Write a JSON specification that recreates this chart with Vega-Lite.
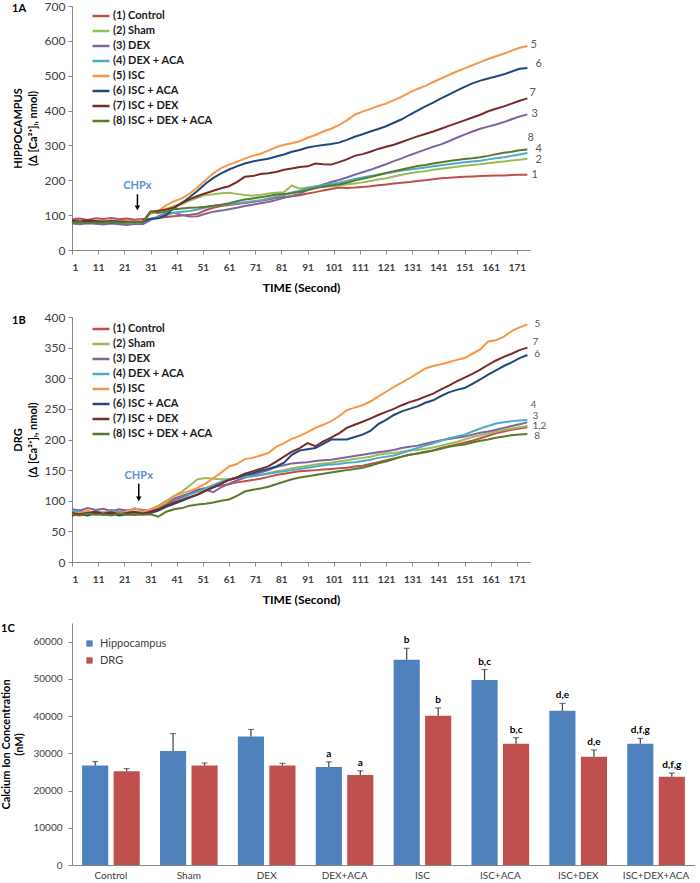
{
"$schema":"https://vega.github.io/schema/vega-lite/v6.json",
"padding":{"left":0,"top":0,"right":0,"bottom":0},
"background":"white",
"config":{"view":{"stroke":null},"font":"Lato",
 "axis":{"grid":false,"domainColor":"#868686","tickColor":"#868686","labelColor":"#404040","labelFont":"Lato","titleFont":"Lato","titleColor":"#000000","titleFontWeight":"bold","labelOverlap":false},
 "legend":{"labelFont":"Lato","padding":0},
 "title":{"font":"Lato"}},
"resolve":{"scale":{"color":"independent"},"legend":{"color":"independent"}},
"datasets":{
"A":[
{"t":1,"a":88,"b":80,"c":76,"d":82,"e":80,"f":84,"g":82,"h":78},
{"t":4,"a":90,"b":78,"c":74,"d":80,"e":82,"f":82,"g":80,"h":80},
{"t":7,"a":86,"b":81,"c":77,"d":79,"e":79,"f":85,"g":83,"h":77},
{"t":10,"a":91,"b":79,"c":75,"d":81,"e":83,"f":83,"g":80,"h":79},
{"t":13,"a":89,"b":80,"c":73,"d":78,"e":80,"f":81,"g":82,"h":78},
{"t":16,"a":92,"b":78,"c":76,"d":80,"e":82,"f":84,"g":79,"h":80},
{"t":19,"a":88,"b":80,"c":74,"d":79,"e":81,"f":82,"g":81,"h":78},
{"t":22,"a":90,"b":79,"c":72,"d":77,"e":79,"f":80,"g":82,"h":79},
{"t":25,"a":87,"b":78,"c":75,"d":80,"e":83,"f":81,"g":80,"h":81},
{"t":28,"a":89,"b":80,"c":74,"d":79,"e":82,"f":80,"g":81,"h":79},
{"t":31,"a":90,"b":110,"c":86,"d":88,"e":104,"f":90,"g":110,"h":110},
{"t":34,"a":92,"b":113,"c":97,"d":94,"e":112,"f":91,"g":112,"h":106},
{"t":37,"a":95,"b":118,"c":104,"d":100,"e":128,"f":100,"g":116,"h":110},
{"t":40,"a":97,"b":126,"c":107,"d":107,"e":140,"f":121,"g":121,"h":117},
{"t":43,"a":99,"b":132,"c":100,"d":110,"e":148,"f":135,"g":135,"h":119},
{"t":46,"a":101,"b":142,"c":96,"d":112,"e":162,"f":152,"g":146,"h":121},
{"t":49,"a":104,"b":150,"c":97,"d":116,"e":180,"f":170,"g":155,"h":122},
{"t":52,"a":114,"b":158,"c":104,"d":122,"e":200,"f":190,"g":163,"h":124},
{"t":55,"a":121,"b":160,"c":110,"d":126,"e":220,"f":207,"g":170,"h":127},
{"t":58,"a":126,"b":163,"c":113,"d":129,"e":235,"f":220,"g":177,"h":130},
{"t":61,"a":129,"b":164,"c":117,"d":131,"e":245,"f":231,"g":183,"h":134},
{"t":64,"a":132,"b":161,"c":121,"d":134,"e":253,"f":240,"g":195,"h":140},
{"t":67,"a":135,"b":158,"c":126,"d":137,"e":262,"f":248,"g":210,"h":145},
{"t":70,"a":138,"b":156,"c":130,"d":140,"e":270,"f":254,"g":212,"h":148},
{"t":73,"a":141,"b":158,"c":134,"d":143,"e":276,"f":258,"g":218,"h":151},
{"t":76,"a":145,"b":162,"c":138,"d":148,"e":285,"f":262,"g":220,"h":155},
{"t":79,"a":149,"b":164,"c":143,"d":153,"e":295,"f":268,"g":224,"h":159},
{"t":82,"a":152,"b":166,"c":150,"d":158,"e":302,"f":274,"g":230,"h":161},
{"t":85,"a":154,"b":185,"c":155,"d":165,"e":306,"f":282,"g":234,"h":163},
{"t":88,"a":157,"b":176,"c":161,"d":170,"e":312,"f":287,"g":238,"h":167},
{"t":91,"a":162,"b":179,"c":172,"d":178,"e":322,"f":294,"g":240,"h":172},
{"t":94,"a":166,"b":180,"c":180,"d":183,"e":330,"f":298,"g":248,"h":177},
{"t":97,"a":171,"b":181,"c":188,"d":186,"e":340,"f":301,"g":246,"h":182},
{"t":100,"a":175,"b":183,"c":195,"d":190,"e":348,"f":304,"g":245,"h":185},
{"t":103,"a":179,"b":185,"c":201,"d":193,"e":358,"f":308,"g":252,"h":188},
{"t":106,"a":178,"b":188,"c":208,"d":198,"e":372,"f":316,"g":260,"h":193},
{"t":109,"a":179,"b":191,"c":216,"d":204,"e":388,"f":325,"g":270,"h":199},
{"t":112,"a":181,"b":194,"c":223,"d":208,"e":397,"f":332,"g":275,"h":204},
{"t":115,"a":183,"b":198,"c":230,"d":212,"e":405,"f":340,"g":282,"h":209},
{"t":118,"a":186,"b":202,"c":238,"d":216,"e":413,"f":347,"g":290,"h":215},
{"t":121,"a":188,"b":206,"c":246,"d":220,"e":420,"f":355,"g":296,"h":221},
{"t":124,"a":191,"b":211,"c":255,"d":224,"e":430,"f":365,"g":302,"h":226},
{"t":127,"a":193,"b":216,"c":263,"d":228,"e":440,"f":375,"g":310,"h":231},
{"t":130,"a":195,"b":220,"c":272,"d":231,"e":452,"f":388,"g":318,"h":236},
{"t":133,"a":198,"b":224,"c":280,"d":234,"e":462,"f":400,"g":326,"h":241},
{"t":136,"a":200,"b":226,"c":288,"d":237,"e":471,"f":412,"g":333,"h":244},
{"t":139,"a":203,"b":230,"c":296,"d":240,"e":482,"f":423,"g":340,"h":248},
{"t":142,"a":206,"b":233,"c":303,"d":243,"e":492,"f":435,"g":348,"h":252},
{"t":145,"a":207,"b":236,"c":312,"d":246,"e":502,"f":446,"g":356,"h":255},
{"t":148,"a":209,"b":239,"c":322,"d":249,"e":512,"f":457,"g":364,"h":258},
{"t":151,"a":210,"b":242,"c":331,"d":252,"e":521,"f":468,"g":372,"h":261},
{"t":154,"a":211,"b":244,"c":340,"d":254,"e":530,"f":478,"g":380,"h":263},
{"t":157,"a":212,"b":246,"c":348,"d":256,"e":539,"f":486,"g":388,"h":266},
{"t":160,"a":213,"b":249,"c":354,"d":260,"e":548,"f":492,"g":398,"h":270},
{"t":163,"a":214,"b":252,"c":360,"d":263,"e":556,"f":498,"g":405,"h":275},
{"t":166,"a":214,"b":254,"c":367,"d":266,"e":563,"f":504,"g":412,"h":279},
{"t":169,"a":215,"b":257,"c":375,"d":270,"e":572,"f":512,"g":420,"h":282},
{"t":172,"a":216,"b":259,"c":383,"d":274,"e":580,"f":520,"g":428,"h":286},
{"t":175,"a":216,"b":262,"c":389,"d":278,"e":585,"f":522,"g":435,"h":288}
],
"B":[
{"t":1,"a":82,"b":80,"c":86,"d":84,"e":78,"f":76,"g":80,"h":78},
{"t":4,"a":84,"b":78,"c":84,"d":82,"e":80,"f":78,"g":78,"h":76},
{"t":7,"a":80,"b":82,"c":88,"d":80,"e":84,"f":76,"g":80,"h":79},
{"t":10,"a":83,"b":79,"c":85,"d":83,"e":78,"f":80,"g":82,"h":77},
{"t":13,"a":81,"b":80,"c":87,"d":81,"e":82,"f":77,"g":79,"h":78},
{"t":16,"a":85,"b":78,"c":83,"d":84,"e":80,"f":79,"g":81,"h":76},
{"t":19,"a":82,"b":81,"c":86,"d":80,"e":79,"f":76,"g":78,"h":79},
{"t":22,"a":84,"b":79,"c":84,"d":83,"e":83,"f":78,"g":80,"h":77},
{"t":25,"a":80,"b":80,"c":87,"d":82,"e":88,"f":77,"g":82,"h":78},
{"t":28,"a":83,"b":79,"c":85,"d":81,"e":82,"f":79,"g":79,"h":77},
{"t":31,"a":84,"b":86,"c":84,"d":82,"e":86,"f":80,"g":82,"h":78},
{"t":34,"a":88,"b":92,"c":86,"d":86,"e":90,"f":84,"g":86,"h":74},
{"t":37,"a":95,"b":100,"c":94,"d":92,"e":97,"f":90,"g":92,"h":82},
{"t":40,"a":100,"b":108,"c":104,"d":98,"e":108,"f":95,"g":97,"h":86},
{"t":43,"a":106,"b":115,"c":108,"d":104,"e":112,"f":100,"g":101,"h":88},
{"t":46,"a":112,"b":125,"c":112,"d":110,"e":116,"f":105,"g":106,"h":92},
{"t":49,"a":118,"b":135,"c":116,"d":114,"e":121,"f":110,"g":110,"h":94},
{"t":52,"a":121,"b":137,"c":118,"d":120,"e":128,"f":116,"g":116,"h":95},
{"t":55,"a":123,"b":136,"c":114,"d":126,"e":137,"f":122,"g":122,"h":97},
{"t":58,"a":125,"b":135,"c":122,"d":131,"e":146,"f":128,"g":128,"h":100},
{"t":61,"a":127,"b":135,"c":128,"d":135,"e":156,"f":134,"g":134,"h":102},
{"t":64,"a":130,"b":137,"c":133,"d":137,"e":160,"f":138,"g":138,"h":108},
{"t":67,"a":132,"b":139,"c":138,"d":139,"e":168,"f":142,"g":144,"h":115},
{"t":70,"a":134,"b":140,"c":142,"d":140,"e":170,"f":145,"g":148,"h":118},
{"t":73,"a":136,"b":142,"c":146,"d":142,"e":174,"f":149,"g":152,"h":120},
{"t":76,"a":139,"b":145,"c":150,"d":144,"e":178,"f":152,"g":156,"h":123},
{"t":79,"a":142,"b":148,"c":155,"d":146,"e":188,"f":156,"g":164,"h":127},
{"t":82,"a":144,"b":150,"c":158,"d":148,"e":194,"f":162,"g":172,"h":131},
{"t":85,"a":146,"b":153,"c":161,"d":150,"e":201,"f":175,"g":180,"h":135},
{"t":88,"a":148,"b":155,"c":162,"d":152,"e":206,"f":182,"g":186,"h":138},
{"t":91,"a":149,"b":157,"c":163,"d":154,"e":212,"f":184,"g":194,"h":140},
{"t":94,"a":150,"b":159,"c":165,"d":156,"e":219,"f":186,"g":189,"h":142},
{"t":97,"a":151,"b":161,"c":166,"d":158,"e":224,"f":193,"g":197,"h":144},
{"t":100,"a":152,"b":162,"c":167,"d":159,"e":230,"f":200,"g":203,"h":146},
{"t":103,"a":153,"b":164,"c":169,"d":160,"e":238,"f":200,"g":210,"h":148},
{"t":106,"a":154,"b":166,"c":171,"d":162,"e":248,"f":200,"g":219,"h":150},
{"t":109,"a":156,"b":168,"c":173,"d":163,"e":252,"f":204,"g":224,"h":152},
{"t":112,"a":157,"b":170,"c":175,"d":165,"e":256,"f":208,"g":229,"h":154},
{"t":115,"a":160,"b":172,"c":177,"d":167,"e":262,"f":214,"g":234,"h":157},
{"t":118,"a":163,"b":175,"c":179,"d":170,"e":270,"f":225,"g":240,"h":161},
{"t":121,"a":166,"b":177,"c":181,"d":172,"e":278,"f":232,"g":245,"h":164},
{"t":124,"a":169,"b":178,"c":183,"d":174,"e":286,"f":240,"g":250,"h":168},
{"t":127,"a":172,"b":180,"c":186,"d":178,"e":293,"f":246,"g":256,"h":172},
{"t":130,"a":175,"b":182,"c":188,"d":182,"e":300,"f":250,"g":261,"h":175},
{"t":133,"a":177,"b":183,"c":190,"d":186,"e":308,"f":254,"g":265,"h":177},
{"t":136,"a":179,"b":185,"c":193,"d":190,"e":316,"f":260,"g":270,"h":180},
{"t":139,"a":182,"b":187,"c":196,"d":194,"e":320,"f":264,"g":275,"h":182},
{"t":142,"a":186,"b":190,"c":199,"d":198,"e":323,"f":271,"g":282,"h":185},
{"t":145,"a":189,"b":193,"c":201,"d":202,"e":326,"f":277,"g":288,"h":188},
{"t":148,"a":192,"b":196,"c":203,"d":205,"e":330,"f":281,"g":295,"h":190},
{"t":151,"a":195,"b":200,"c":205,"d":208,"e":333,"f":284,"g":301,"h":192},
{"t":154,"a":198,"b":204,"c":208,"d":213,"e":340,"f":291,"g":307,"h":195},
{"t":157,"a":202,"b":207,"c":211,"d":218,"e":347,"f":298,"g":314,"h":198},
{"t":160,"a":206,"b":210,"c":213,"d":222,"e":360,"f":306,"g":322,"h":200},
{"t":163,"a":210,"b":213,"c":216,"d":226,"e":362,"f":313,"g":329,"h":203},
{"t":166,"a":213,"b":216,"c":219,"d":228,"e":368,"f":320,"g":335,"h":205},
{"t":169,"a":216,"b":218,"c":222,"d":230,"e":377,"f":326,"g":340,"h":207},
{"t":172,"a":218,"b":220,"c":225,"d":231,"e":383,"f":333,"g":346,"h":208},
{"t":175,"a":220,"b":222,"c":228,"d":232,"e":388,"f":338,"g":350,"h":209}
],
"C":[
{"grp":"Control","tissue":"Hippocampus","m":26700,"hi":27800,"lab":""},
{"grp":"Control","tissue":"DRG","m":25200,"hi":25900,"lab":""},
{"grp":"Sham","tissue":"Hippocampus","m":30600,"hi":35300,"lab":""},
{"grp":"Sham","tissue":"DRG","m":26700,"hi":27400,"lab":""},
{"grp":"DEX","tissue":"Hippocampus","m":34500,"hi":36400,"lab":""},
{"grp":"DEX","tissue":"DRG","m":26700,"hi":27300,"lab":""},
{"grp":"DEX+ACA","tissue":"Hippocampus","m":26300,"hi":27700,"lab":"a"},
{"grp":"DEX+ACA","tissue":"DRG","m":24200,"hi":25300,"lab":"a"},
{"grp":"ISC","tissue":"Hippocampus","m":55100,"hi":58200,"lab":"b"},
{"grp":"ISC","tissue":"DRG","m":40100,"hi":42200,"lab":"b"},
{"grp":"ISC+ACA","tissue":"Hippocampus","m":49700,"hi":52500,"lab":"b,c"},
{"grp":"ISC+ACA","tissue":"DRG","m":32600,"hi":34200,"lab":"b,c"},
{"grp":"ISC+DEX","tissue":"Hippocampus","m":41400,"hi":43400,"lab":"d,e"},
{"grp":"ISC+DEX","tissue":"DRG","m":29100,"hi":30900,"lab":"d,e"},
{"grp":"ISC+DEX+ACA","tissue":"Hippocampus","m":32600,"hi":34000,"lab":"d,f,g"},
{"grp":"ISC+DEX+ACA","tissue":"DRG","m":23700,"hi":24700,"lab":"d,f,g"}
]
},
"spacing":18,
"vconcat":[
{"spacing":18,"resolve":{"scale":{"color":"independent"},"legend":{"color":"independent"}},"vconcat":[
{
"width":458,"height":244,
"title":{"text":"1A","anchor":"start","frame":"bounds","baseline":"top","offset":-10,"dy":4,"fontSize":11,"fontWeight":"bold","color":"#000000"},
"encoding":{
"x":{"field":"t","type":"quantitative","scale":{"domain":[1,176],"nice":false,"zero":false},
 "axis":{"values":[1,11,21,31,41,51,61,71,81,91,101,111,121,131,141,151,161,171],"labelOverlap":false,"title":"TIME (Second)","titleFontSize":12,"labelFontWeight":"bold","labelFontSize":10,"tickSize":4,"labelPadding":8,"titlePadding":10}},
"y":{"field":"v","type":"quantitative","scale":{"domain":[0,700]},
 "axis":{"values":[0,100,200,300,400,500,600,700],"labelOverlap":false,"title":["HIPPOCAMPUS","(Δ [Ca²⁺]ᵢ, nmol)"],"titleFontSize":11,"titleLineHeight":15,"labelFontSize":12,"tickSize":4,"labelPadding":3,"titlePadding":6}}
},
"layer":[
{"data":{"name":"A"},"transform":[{"fold":["a","b","c","d","e","f","g","h"],"as":["s","v"]}],
"mark":{"type":"line","strokeWidth":2},
"encoding":{
"color":{"field":"s","type":"nominal","scale":{"domain":["a","b","c","d","e","f","g","h"],"range":["#C0504D","#9BBB59","#8064A2","#4BACC6","#F79646","#1F497D","#772C2A","#5A7A2A"]},
 "legend":{"orient":"none","legendX":19,"legendY":0,"title":null,"symbolType":"stroke","symbolSize":289,"symbolStrokeWidth":2.5,"labelFontSize":11,"labelFontWeight":"bold","labelColor":"#1a1a1a","rowPadding":-2,"labelOffset":2,
 "labelExpr":"{'a':'(1) Control','b':'(2) Sham','c':'(3) DEX','d':'(4) DEX + ACA','e':'(5) ISC','f':'(6) ISC + ACA','g':'(7) ISC + DEX','h':'(8) ISC + DEX + ACA'}[datum.label]"}}
}},
{"data":{"values":[{"lab":"5","t":175.4,"v":589},{"lab":"6","t":177.3,"v":534},{"lab":"7","t":175,"v":451},{"lab":"3","t":175.8,"v":390},{"lab":"8","t":174.3,"v":322},{"lab":"4","t":177.3,"v":289},{"lab":"2","t":177.3,"v":258},{"lab":"1","t":175.8,"v":215}]},
"mark":{"type":"text","align":"left","baseline":"middle","dx":2,"fontSize":11,"color":"#595959"},
"encoding":{"text":{"field":"lab"}}},
{"data":{"values":[{"t":26,"v":183,"lab":"CHPx"}]},
"mark":{"type":"text","fontSize":11,"fontWeight":"bold","color":"#5B8FD4","baseline":"middle"},
"encoding":{"text":{"field":"lab"}}},
{"data":{"values":[{"t":26,"v":160,"v2":125}]},
"mark":{"type":"rule","color":"#000000","strokeWidth":1.5},
"encoding":{"y2":{"field":"v2"}}},
{"data":{"values":[{"t":26,"v":121}]},
"mark":{"type":"point","shape":"triangle-down","filled":true,"color":"#000000","size":30,"opacity":1},
"encoding":{}}
]
},
{
"width":458,"height":245,
"title":{"text":"1B","anchor":"start","frame":"bounds","baseline":"top","offset":-10,"dy":5,"fontSize":11,"fontWeight":"bold","color":"#000000"},
"encoding":{
"x":{"field":"t","type":"quantitative","scale":{"domain":[1,176],"nice":false,"zero":false},
 "axis":{"values":[1,11,21,31,41,51,61,71,81,91,101,111,121,131,141,151,161,171],"labelOverlap":false,"title":"TIME (Second)","titleFontSize":12,"labelFontWeight":"bold","labelFontSize":10,"tickSize":4,"labelPadding":8,"titlePadding":10}},
"y":{"field":"v","type":"quantitative","scale":{"domain":[0,400]},
 "axis":{"values":[0,50,100,150,200,250,300,350,400],"labelOverlap":false,"title":["DRG","(Δ [Ca²⁺]ᵢ, nmol)"],"titleFontSize":11,"titleLineHeight":15,"labelFontSize":12,"tickSize":4,"labelPadding":3,"titlePadding":6}}
},
"layer":[
{"data":{"name":"B"},"transform":[{"fold":["a","b","c","d","e","f","g","h"],"as":["s","v"]}],
"mark":{"type":"line","strokeWidth":2},
"encoding":{
"color":{"field":"s","type":"nominal","scale":{"domain":["a","b","c","d","e","f","g","h"],"range":["#C0504D","#9BBB59","#8064A2","#4BACC6","#F79646","#1F497D","#772C2A","#5A7A2A"]},
 "legend":{"orient":"none","legendX":19,"legendY":2,"title":null,"symbolType":"stroke","symbolSize":289,"symbolStrokeWidth":2.5,"labelFontSize":11,"labelFontWeight":"bold","labelColor":"#1a1a1a","rowPadding":-2,"labelOffset":2,
 "labelExpr":"{'a':'(1) Control','b':'(2) Sham','c':'(3) DEX','d':'(4) DEX + ACA','e':'(5) ISC','f':'(6) ISC + ACA','g':'(7) ISC + DEX','h':'(8) ISC + DEX + ACA'}[datum.label]"}}
}},
{"data":{"values":[{"lab":"5","t":177,"v":388},{"lab":"7","t":176.2,"v":359},{"lab":"6","t":176.9,"v":339},{"lab":"4","t":175.4,"v":256},{"lab":"3","t":176.2,"v":239},{"lab":"1,2","t":176.2,"v":222.5},{"lab":"8","t":176.9,"v":205}]},
"mark":{"type":"text","align":"left","baseline":"middle","dx":2,"fontSize":10,"color":"#595959"},
"encoding":{"text":{"field":"lab"}}},
{"data":{"values":[{"t":26.5,"v":141,"lab":"CHPx"}]},
"mark":{"type":"text","fontSize":11,"fontWeight":"bold","color":"#5B8FD4","baseline":"middle"},
"encoding":{"text":{"field":"lab"}}},
{"data":{"values":[{"t":26.5,"v":128,"v2":106}]},
"mark":{"type":"rule","color":"#000000","strokeWidth":1.5},
"encoding":{"y2":{"field":"v2"}}},
{"data":{"values":[{"t":26.5,"v":103}]},
"mark":{"type":"point","shape":"triangle-down","filled":true,"color":"#000000","size":30,"opacity":1},
"encoding":{}}
]
}
]},
{
"width":623,"height":242,
"title":{"text":"1C","anchor":"start","frame":"bounds","baseline":"top","offset":-10,"dy":1,"fontSize":11,"fontWeight":"bold","color":"#000000"},
"data":{"name":"C"},
"encoding":{
"x":{"field":"grp","type":"nominal","sort":null,"scale":{"paddingInner":0.26,"paddingOuter":0.13},
 "axis":{"title":null,"labelAngle":0,"labelFontSize":10,"ticks":false,"labelPadding":5}},
"xOffset":{"field":"tissue","type":"nominal","sort":["Hippocampus","DRG"],"scale":{"paddingInner":0.17}}
},
"layer":[
{"mark":{"type":"bar"},
"encoding":{
"y":{"field":"m","type":"quantitative","scale":{"domain":[0,65000],"nice":false},
 "axis":{"values":[0,10000,20000,30000,40000,50000,60000],"labelOverlap":false,"format":"d","title":["Calcium Ion Concentration","(nM)"],"titleFontSize":11,"titleLineHeight":13,"labelFontSize":10,"tickSize":4,"labelPadding":6,"titlePadding":8}},
"color":{"field":"tissue","type":"nominal","scale":{"domain":["Hippocampus","DRG"],"range":["#4F81BD","#C0504D"]},
 "legend":{"orient":"none","legendX":12,"legendY":15,"title":null,"symbolType":"square","symbolSize":40,"labelFontSize":11,"labelColor":"#404040","rowPadding":5,"labelOffset":5}}
}},
{"mark":{"type":"rule","color":"#404040","strokeWidth":1.2},
"encoding":{"y":{"field":"m","type":"quantitative"},"y2":{"field":"hi"}}},
{"mark":{"type":"tick","color":"#404040","thickness":1.2,"size":6},
"encoding":{"y":{"field":"hi","type":"quantitative"}}},
{"mark":{"type":"text","dy":-8,"fontSize":10,"fontWeight":"bold","color":"#000000"},
"encoding":{"y":{"field":"hi","type":"quantitative"},"text":{"field":"lab"}}}
]
}
]
}
